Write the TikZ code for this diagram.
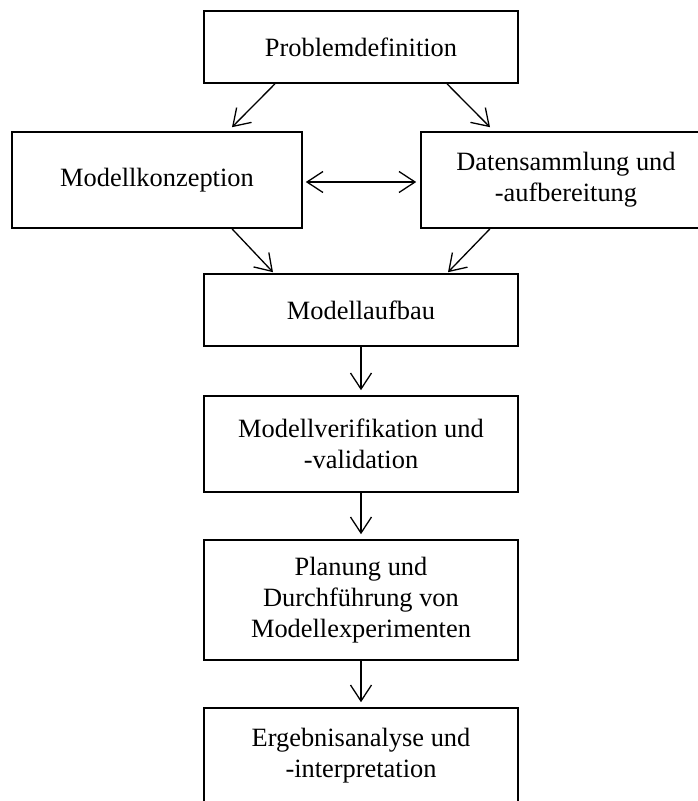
\documentclass[tikz,border=0pt]{standalone}
\usepackage{fontspec}
\setmainfont{Liberation Serif}
\usetikzlibrary{arrows.meta}
\begin{document}
\begin{tikzpicture}[x=1pt,y=-1pt,
  box/.style={draw,line width=1.6pt,rectangle,inner sep=0pt,align=center,
    font=\fontsize{26.4}{31}\selectfont},
  wide/.style={minimum width=314pt},
  side/.style={minimum width=290pt},
  flow/.style={line width=1.3pt,-{Straight Barb[length=16pt,width=21pt]}},
  both/.style={line width=1.3pt,{Straight Barb[length=16pt,width=21pt]}-{Straight Barb[length=16pt,width=21pt]}}]
\useasboundingbox (0,0) rectangle (698,801);

% process steps
\node[box,wide,minimum height=72pt] (prob) at (361,47) {Problemdefinition};
\node[box,side,minimum height=96pt] (mk) at (157,180) {Modellkonzeption};
\node[box,side,minimum height=96pt] (ds) at (566,180) {Datensammlung und\\-aufbereitung};
\node[box,wide,minimum height=72pt] (ma) at (361,310) {Modellaufbau};
\node[box,wide,minimum height=96pt] (mv) at (361,444) {Modellverifikation und\\-validation};
\node[box,wide,minimum height=120pt] (pl) at (361,600) {Planung und\\Durchführung von\\Modellexperimenten};
\node[box,wide,minimum height=96pt] (ea) at (361,756) {Ergebnisanalyse und\\-interpretation};

% connectors
\draw[flow] ([xshift=-86pt]prob.south) -- ([xshift=75pt,yshift=4pt]mk.north);
\draw[flow] ([xshift=86pt]prob.south) -- ([xshift=-76pt,yshift=4pt]ds.north);
\draw[both] ([xshift=3pt,yshift=-2pt]mk.east) -- ([xshift=-4pt,yshift=-2pt]ds.west);
\draw[flow] ([xshift=75pt]mk.south) -- ([xshift=-88pt,yshift=1pt]ma.north);
\draw[flow] ([xshift=-76pt]ds.south) -- ([xshift=87pt,yshift=1pt]ma.north);
\draw[flow] (ma.south) -- ([yshift=5pt]mv.north);
\draw[flow] (mv.south) -- ([yshift=5pt]pl.north);
\draw[flow] (pl.south) -- ([yshift=5pt]ea.north);
\end{tikzpicture}
\end{document}
